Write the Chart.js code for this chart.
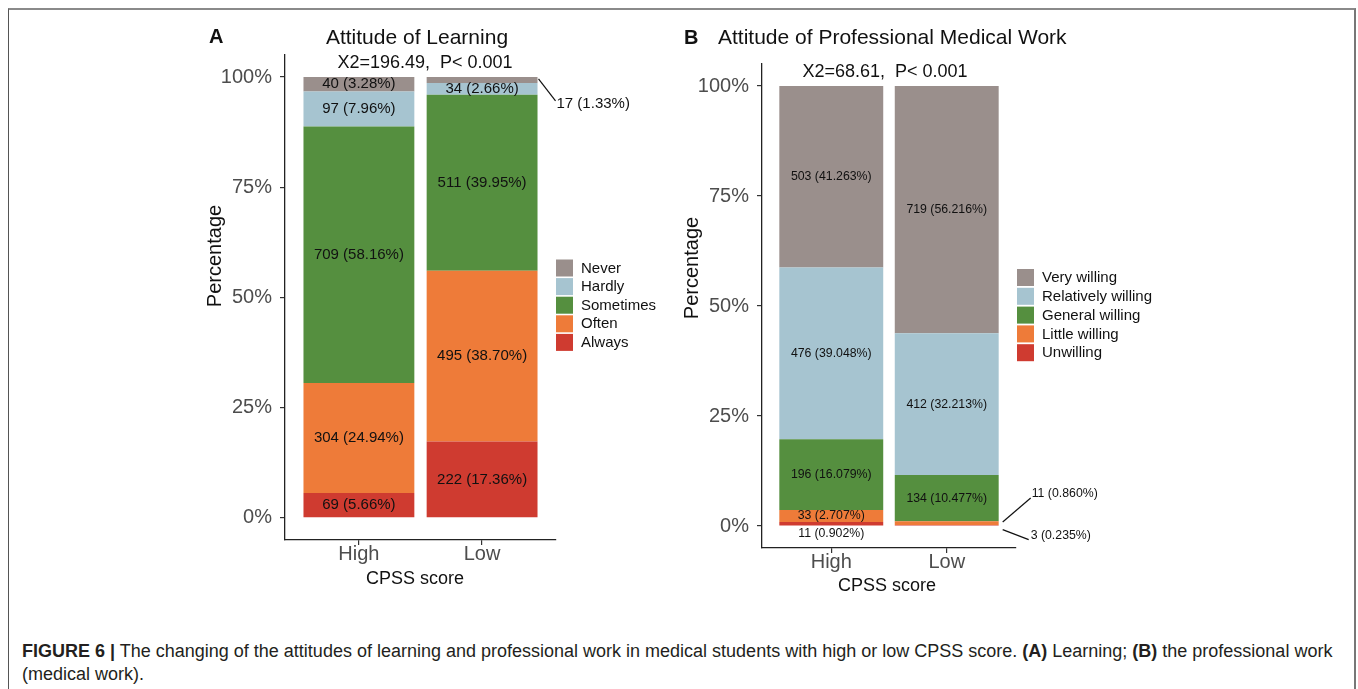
<!DOCTYPE html>
<html>
<head>
<meta charset="utf-8">
<script src="https://cdn.jsdelivr.net/npm/chart.js@4.4.1/dist/chart.umd.min.js"></script>
<style>
  body { margin: 0; width: 1358px; height: 689px; background: #fff; overflow: hidden; position: relative;
         font-family: "Liberation Sans", Arial, sans-serif; }
  #frame { position: absolute; left: 8px; top: 8px; width: 1345px; height: 700px;
           border-top: 2px solid #8a8a8a; border-left: 1.5px solid #555; border-right: 2px solid #777; }
  #cA { position: absolute; left: 190px; top: 20px; }
  #cB { position: absolute; left: 670px; top: 20px; }
  #caption { position: absolute; left: 22px; top: 640px; font-size: 18px; line-height: 23px;
             color: #231f20; white-space: nowrap; }
</style>
</head>
<body>
<div id="frame"></div>
<canvas id="cA" width="490" height="580" style="width:490px;height:580px"></canvas>
<canvas id="cB" width="500" height="585" style="width:500px;height:585px"></canvas>
<div id="caption"><b>FIGURE 6 |</b> The changing of the attitudes of learning and professional work in medical students with high or low CPSS score. <b>(A)</b> Learning; <b>(B)</b> the professional work<br>(medical work).</div>

<script>
const xLabels = ["High", "Low"];
const yTicks = [0, 25, 50, 75, 100];

// panel A: attitude of learning (stack order bottom -> top)
const learnLevels = ["Always", "Often", "Sometimes", "Hardly", "Never"];
const learnColors = ["#cf3b30", "#ee7b39", "#558f3f", "#a6c4d0", "#9a8f8c"];
const learnHighN = [69, 304, 709, 97, 40];
const learnHighPct = [5.66, 24.94, 58.16, 7.96, 3.28];
const learnLowN = [222, 495, 511, 34, 17];
const learnLowPct = [17.36, 38.70, 39.95, 2.66, 1.33];

// panel B: attitude of professional medical work
const workLevels = ["Unwilling", "Little willing", "General willing", "Relatively willing", "Very willing"];
const workColors = ["#cf3b30", "#ee7b39", "#558f3f", "#a6c4d0", "#9a8f8c"];
const workHighN = [11, 33, 196, 476, 503];
const workHighPct = [0.902, 2.707, 16.079, 39.048, 41.263];
const workLowN = [3, 11, 134, 412, 719];
const workLowPct = [0.235, 0.860, 10.477, 32.213, 56.216];

const FAMILY = '"Liberation Sans", Arial, sans-serif';
const font = (size, bold) => (bold ? "bold " : "") + size + "px " + FAMILY;

function buildDatasets(levels, colors, highN, highPct, lowN, lowPct) {
  return levels.map((lvl, i) => ({
    label: lvl,
    data: [{ x: 1, y: highPct[i] }, { x: 2, y: lowPct[i] }],
    counts: [highN[i], lowN[i]],
    pcts: [highPct[i], lowPct[i]],
    backgroundColor: colors[i],
    borderWidth: 0,
    categoryPercentage: 0.9,
    barPercentage: 1.0
  }));
}

// titles, value labels, leader lines and legend
function decoPlugin(d) {
  return {
    id: "deco",
    afterDraw(chart) {
      const ctx = chart.ctx;
      ctx.save();
      ctx.fillStyle = "#111";

      chart.data.datasets.forEach((ds, di) => {
        const meta = chart.getDatasetMeta(di);
        meta.data.forEach((bar, j) => {
          const txt = ds.counts[j] + " (" + ds.pcts[j].toFixed(d.digits) + "%)";
          const right = bar.x + bar.width / 2;
          const mid = (bar.y + bar.base) / 2;
          const p = d.outside[di + "-" + j];
          ctx.font = font(d.labelSize);
          ctx.textBaseline = "middle";
          if (!p) {
            ctx.textAlign = "center";
            ctx.fillText(txt, bar.x, mid);
          } else if (p.below) {
            ctx.textAlign = "center";
            ctx.fillText(txt, bar.x, bar.base + p.below);
          } else {
            ctx.strokeStyle = "#111";
            ctx.lineWidth = 1.2;
            ctx.beginPath();
            ctx.moveTo(right + p.a[0], mid + p.a[1]);
            ctx.lineTo(right + p.b[0], mid + p.b[1]);
            ctx.stroke();
            ctx.textAlign = "left";
            ctx.fillText(txt, right + p.t[0], mid + p.t[1]);
          }
        });
      });

      // panel letter and titles
      ctx.textBaseline = "middle";
      ctx.textAlign = "left";
      ctx.font = font(20, true);
      ctx.fillText(d.letter, d.letterPos[0], d.letterPos[1]);
      ctx.font = font(21);
      ctx.textAlign = d.titleAlign;
      ctx.fillText(d.title, d.titlePos[0], d.titlePos[1]);
      ctx.font = font(18);
      ctx.textAlign = "center";
      ctx.fillText(d.sub, d.subPos[0], d.subPos[1]);

      // axis titles
      ctx.fillText("CPSS score", d.xTitlePos[0], d.xTitlePos[1]);
      ctx.save();
      ctx.translate(d.yTitlePos[0], d.yTitlePos[1]);
      ctx.rotate(-Math.PI / 2);
      ctx.font = font(20);
      ctx.fillText("Percentage", 0, 0);
      ctx.restore();

      // legend (top level first)
      const ds = chart.data.datasets;
      ctx.font = font(15);
      ctx.textAlign = "left";
      for (let k = ds.length - 1, r = 0; k >= 0; k--, r++) {
        const y = d.legendPos[1] + r * d.legendPitch;
        ctx.fillStyle = ds[k].backgroundColor;
        ctx.fillRect(d.legendPos[0], y, 17, 17);
        ctx.fillStyle = "#111";
        ctx.fillText(ds[k].label, d.legendPos[0] + 25, y + 9);
      }
      ctx.restore();
    }
  };
}

function makeChart(id, datasets, lay, d) {
  return new Chart(document.getElementById(id), {
    type: "bar",
    data: { datasets },
    options: {
      responsive: false,
      animation: false,
      layout: { padding: { left: 0, top: lay.top, right: lay.right, bottom: 0 } },
      plugins: { legend: { display: false }, tooltip: { enabled: false } },
      scales: {
        x: {
          type: "linear", min: 0.4, max: 2.6, stacked: true, offset: false,
          afterBuildTicks: s => { s.ticks = [{ value: 1 }, { value: 2 }]; },
          afterFit: s => { s.height = lay.xh; },
          ticks: { callback: (v, i) => xLabels[i], color: "#4d4d4d", font: { size: 20, family: FAMILY },
                   padding: -3, maxRotation: 0, autoSkip: false },
          grid: { drawOnChartArea: false, drawTicks: true, tickLength: 5, color: "#333", lineWidth: 1.2, offset: false },
          border: { display: true, color: "#222", width: 1.3 }
        },
        y: {
          type: "linear", min: -5, max: 105, stacked: true,
          afterBuildTicks: s => { s.ticks = yTicks.map(v => ({ value: v })); },
          afterFit: s => { s.width = lay.yw; },
          ticks: { callback: v => v + "%", color: "#4d4d4d", font: { size: 20, family: FAMILY }, padding: 8 },
          grid: { drawOnChartArea: false, drawTicks: true, tickLength: 5, color: "#333", lineWidth: 1.2 },
          border: { display: true, color: "#222", width: 1.3 }
        }
      }
    },
    plugins: [decoPlugin(d)]
  });
}

makeChart("cA",
  buildDatasets(learnLevels, learnColors, learnHighN, learnHighPct, learnLowN, learnLowPct),
  { top: 35, right: 124, xh: 60, yw: 95 },
  {
    digits: 2, labelSize: 15,
    outside: { "4-1": { a: [1, -1], b: [18, 21], t: [19, 24] } },
    letter: "A", letterPos: [19, 17],
    title: "Attitude of Learning", titleAlign: "center", titlePos: [227, 18],
    sub: "X2=196.49,  P< 0.001", subPos: [235, 43],
    xTitlePos: [225, 559], yTitlePos: [25, 236],
    legendPos: [366, 239.5], legendPitch: 18.6
  });

makeChart("cB",
  buildDatasets(workLevels, workColors, workHighN, workHighPct, workLowN, workLowPct),
  { top: 44, right: 154, xh: 57, yw: 92 },
  {
    digits: 3, labelSize: 12.3,
    outside: {
      "0-0": { below: 8 },
      "0-1": { a: [4, 4.5], b: [30, 14.5], t: [32, 10.5] },
      "1-1": { a: [4, -1], b: [32, -25], t: [33, -29] }
    },
    letter: "B", letterPos: [14, 18],
    title: "Attitude of Professional Medical Work", titleAlign: "left", titlePos: [48, 18],
    sub: "X2=68.61,  P< 0.001", subPos: [215, 52],
    xTitlePos: [217, 566], yTitlePos: [22, 248],
    legendPos: [347, 249], legendPitch: 18.8
  });
</script>
</body>
</html>
